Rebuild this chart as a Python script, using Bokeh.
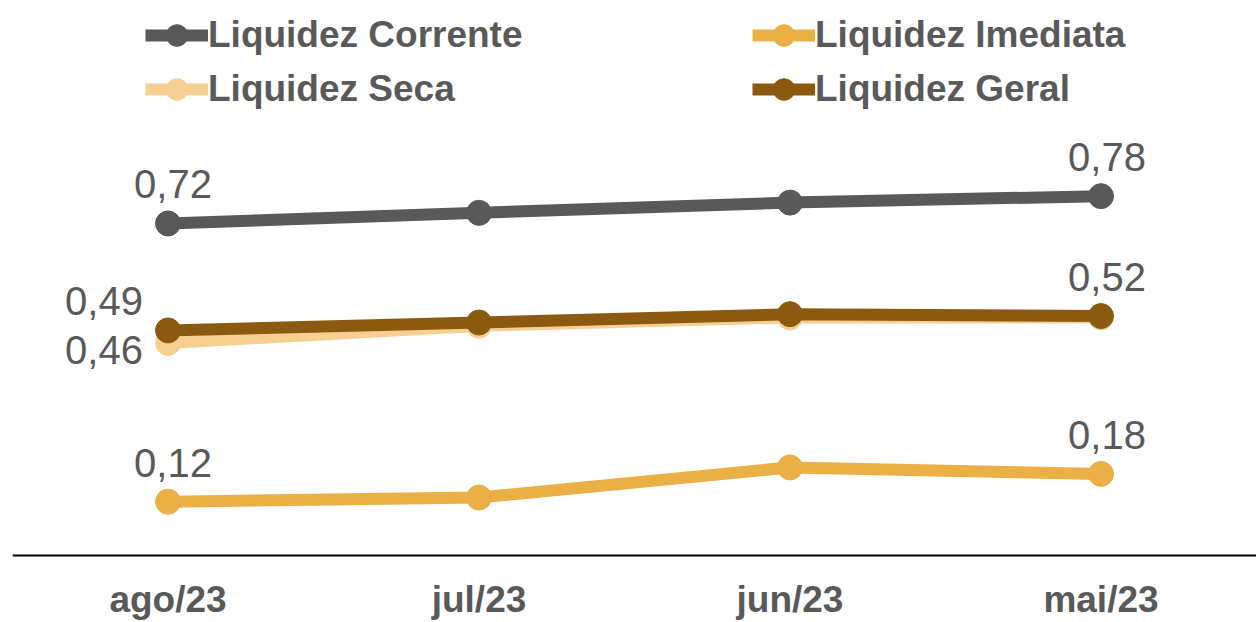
from bokeh.plotting import figure
from bokeh.models import Legend, LegendItem, FactorRange, Range1d, ColumnDataSource
from bokeh.core.properties import value
from bokeh.embed import file_html
from bokeh.resources import INLINE

months = ["ago/23", "jul/23", "jun/23", "mai/23"]
corrente = [0.718, 0.741, 0.763, 0.777]
imediata = [0.117, 0.126, 0.191, 0.177]
seca = [0.46, 0.497, 0.515, 0.515]
geral = [0.487, 0.504, 0.522, 0.518]

series_names = ["Liquidez Corrente", "Liquidez Imediata", "Liquidez Seca", "Liquidez Geral"]
colors = ["#595959", "#EAAF45", "#F5D092", "#8B5A10"]

FONT = "Liberation Sans"
GREY = "#595959"

p = figure(width=1256, height=622, x_range=FactorRange(*months), y_range=Range1d(-0.144, 1.178),
           output_backend="svg", toolbar_location=None,
           min_border_left=12, min_border_right=0, min_border_top=10, min_border_bottom=0)
p.outline_line_color = None
p.xgrid.visible = False
p.ygrid.visible = False
p.yaxis.visible = False
p.xaxis.fixed_location = 0
p.xaxis.axis_line_color = "#000000"
p.xaxis.axis_line_width = 2
p.xaxis.major_tick_line_color = None
p.xaxis.minor_tick_line_color = None
p.xaxis.major_label_text_font = FONT
p.xaxis.major_label_text_font_style = "bold"
p.xaxis.major_label_text_font_size = "37px"
p.xaxis.major_label_text_color = GREY
p.xaxis.major_label_standoff = 17

renderers = {}
for name, vals, col in zip(series_names, [corrente, imediata, seca, geral], colors):
    src = ColumnDataSource(dict(x=months, y=vals))
    lr = p.line("x", "y", source=src, line_color=col, line_width=12)
    sr = p.scatter("x", "y", source=src, size=25, fill_color=col, line_color=col)
    renderers[name] = [lr, sr]

# data labels
def fmt(v):
    return f"{v:.2f}".replace(".", ",")

lab_x = [months[0], months[3], months[0], months[3], months[3], months[0], months[0]]
lab_v = [corrente[0], corrente[3], imediata[0], imediata[3], geral[3], geral[0], seca[0]]
lab_dx = [5, 6, 5, 6, 6, -64, -64]
lab_dy = [-39, -39, -39, -39, -39, -29, 7]
lsrc = ColumnDataSource(dict(x=lab_x, y=lab_v, t=[fmt(v) for v in lab_v], dx=lab_dx, dy=lab_dy))
p.text("x", "y", text="t", source=lsrc, x_offset="dx", y_offset="dy",
       text_font=value(FONT), text_font_size="40px", text_color=GREY,
       text_align="center", text_baseline="middle")

def make_legend(names, loc):
    items = [LegendItem(label=n, renderers=renderers[n]) for n in names]
    lg = Legend(items=items, location=loc, orientation="vertical",
                label_text_font=FONT, label_text_font_style="bold",
                label_text_font_size="37px", label_text_color=GREY,
                glyph_width=63, glyph_height=54, label_height=44, spacing=0,
                label_standoff=0, padding=0, margin=0,
                border_line_color=None, background_fill_alpha=0)
    p.add_layout(lg, "center")

make_legend(["Liquidez Corrente", "Liquidez Seca"], (133, 506))
make_legend(["Liquidez Imediata", "Liquidez Geral"], (740, 506))

open("out.html", "w").write(file_html(p, INLINE))
